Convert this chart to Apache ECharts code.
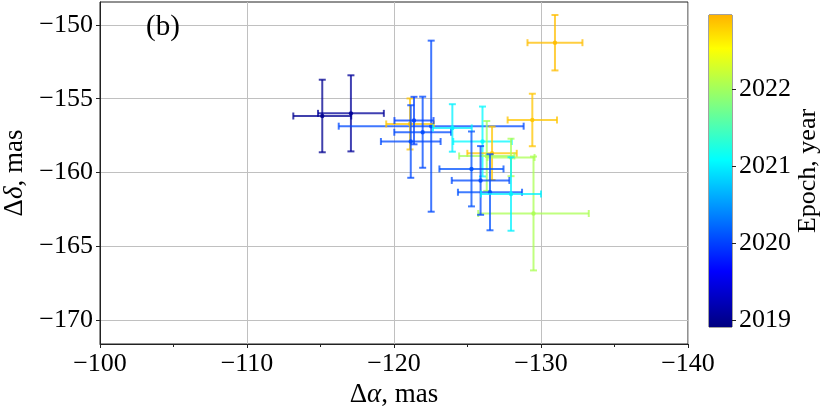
<!DOCTYPE html>
<html lang="en">
<head>
  <meta charset="UTF-8">
  <title>Offsets by epoch - ECharts</title>
  <script src="https://cdn.jsdelivr.net/npm/echarts@6.0.0/dist/echarts.min.js"></script>
</head>
<body style="margin:0;background:#fff;">
  <!-- Chart container -->
  <div id="main" style="width: 830px; height: 410px;"></div>

  <script>
    // Measured offsets (mas) with errors, coloured by epoch
    const dRA    = [-115.12, -117.07, -122.53, -121.09, -121.36, -121.95, -121.14, -123.97, -126.02, -129.41,
                    -130.95, -126.67, -126.31, -127.96, -129.49, -125.27, -125.89, -126.53, -127.96];
    const dDec   = [-156.17, -155.99, -156.86, -156.71, -156.48, -157.27, -157.90, -156.98, -157.90, -156.44,
                    -151.20, -158.70, -158.88, -158.98, -162.78, -159.76, -160.54, -161.34, -161.46];
    const errRA  = [1.97, 2.24, 6.29, 1.62, 1.33, 1.93, 2.03, 1.32, 1.99, 1.68,
                    1.87, 1.68, 1.88, 1.60, 3.76, 2.18, 1.96, 2.18, 2.04];
    const errDec = [2.46, 2.58, 5.80, 1.73, 1.61, 2.41, 2.46, 1.61, 2.37, 1.78,
                    1.88, 1.81, 2.37, 1.27, 3.86, 2.54, 2.33, 2.58, 2.49];
    const epoch  = [2019.00, 2019.05, 2020.05, 2022.85, 2020.00, 2020.05, 2020.05, 2021.00, 2021.05, 2022.85,
                    2022.90, 2022.85, 2022.00, 2022.05, 2022.05, 2020.10, 2020.05, 2020.10, 2021.00];

    const yTicks = [-170, -165, -160, -155, -150];
    const cbTicks = [2019, 2020, 2021, 2022];
    const cbMin = 2018.91, cbMax = 2022.96;

    // matplotlib jet, only the 0..0.7 part is used
    function jet(t) {
      const c = v => Math.max(0, Math.min(1, v));
      const r = c(1.5 - Math.abs(4 * t - 3));
      const g = c(1.5 - Math.abs(4 * t - 2));
      const b = c(1.5 - Math.abs(4 * t - 1));
      return 'rgb(' + Math.round(r * 255) + ',' + Math.round(g * 255) + ',' + Math.round(b * 255) + ')';
    }
    const nStops = 29;
    const jetColors = [];
    for (let i = 0; i < nStops; i++) jetColors.push(jet(0.7 * i / (nStops - 1)));

    const points = dRA.map((x, i) => [x, dDec[i], errRA[i], errDec[i], epoch[i]]);

    const serif = 'Liberation Serif';
    const minus = v => String(v).replace('-', '\u2212');
    const nameRich = {
      n: { fontFamily: serif, fontSize: 27, color: '#000' },
      i: { fontFamily: serif, fontSize: 27, fontStyle: 'italic', color: '#000' }
    };

    let myChart = echarts.init(document.getElementById('main'));

    const options = {
      animation: false,
      title: {
        text: '(b)', left: 141, top: 8,
        textStyle: { fontFamily: serif, fontSize: 29, fontWeight: 'normal', color: '#000' }
      },
      grid: [
        { left: 100, top: 2, width: 588, height: 342, outerBoundsMode: 'none', containLabel: false,
          show: true, borderColor: '#222', borderWidth: 1 },
        { left: 709, top: 15, width: 23, height: 312, outerBoundsMode: 'none', containLabel: false,
          show: true, borderColor: '#444', borderWidth: 1 }
      ],
      visualMap: {
        show: false, type: 'continuous', seriesIndex: 0, dimension: 4,
        min: cbMin, max: cbMax, inRange: { color: jetColors }
      },
      xAxis: [
        {
          gridIndex: 0, type: 'value', inverse: true, min: -140, max: -100, interval: 10,
          name: '{n|\u0394}{i|\u03b1}{n|, mas}', nameLocation: 'middle', nameGap: 34,
          nameTextStyle: { rich: nameRich },
          axisLine: { lineStyle: { color: '#222' } },
          axisTick: { inside: false, length: 4, lineStyle: { color: '#222' } },
          minorTick: { show: true, splitNumber: 2, length: 3, lineStyle: { color: '#222' } },
          splitLine: { show: true, lineStyle: { color: '#c0c0c0', width: 1 } },
          axisLabel: { fontFamily: serif, fontSize: 26, color: '#000', margin: 7, formatter: minus }
        },
        { gridIndex: 1, type: 'category', data: ['cb'], show: false }
      ],
      yAxis: [
        {
          gridIndex: 0, type: 'value', min: -171.63, max: -148.44,
          name: '{n|\u0394}{i|\u03b4}{n|, mas}', nameLocation: 'middle', nameGap: 68,
          nameTextStyle: { rich: nameRich },
          axisLine: { show: true, lineStyle: { color: '#222' } },
          axisTick: { show: true, length: 4, customValues: yTicks, lineStyle: { color: '#222' } },
          splitLine: { show: true, lineStyle: { color: '#c0c0c0', width: 1 } },
          axisLabel: { fontFamily: serif, fontSize: 26, color: '#000', margin: 7, customValues: yTicks, formatter: minus }
        },
        {
          gridIndex: 1, type: 'value', position: 'right', min: cbMin, max: cbMax,
          name: 'Epoch, year', nameLocation: 'middle', nameGap: 62, nameRotate: 90,
          nameTextStyle: { fontFamily: serif, fontSize: 26, color: '#000' },
          axisLine: { show: false },
          axisTick: { show: true, length: 4, customValues: cbTicks, lineStyle: { color: '#222' } },
          splitLine: { show: false },
          axisLabel: { fontFamily: serif, fontSize: 26, color: '#000', margin: 7, customValues: cbTicks,
                       formatter: v => String(v) }
        }
      ],
      series: [
        {
          type: 'custom', xAxisIndex: 0, yAxisIndex: 0,
          encode: { x: 0, y: 1 },
          data: points,
          renderItem: function (params, api) {
            const x = api.value(0), y = api.value(1), ex = api.value(2), ey = api.value(3);
            const c = api.coord([x, y]);
            const l = api.coord([x - ex, y]), r = api.coord([x + ex, y]);
            const t = api.coord([x, y + ey]), b = api.coord([x, y - ey]);
            const col = api.visual('color');
            const st = { stroke: col, lineWidth: 2, opacity: 0.75 };
            const cap = 3.5;
            const line = (x1, y1, x2, y2) => ({ type: 'line', shape: { x1: x1, y1: y1, x2: x2, y2: y2 }, style: st });
            return {
              type: 'group',
              children: [
                line(l[0], c[1], r[0], c[1]),
                line(c[0], t[1], c[0], b[1]),
                line(l[0], c[1] - cap, l[0], c[1] + cap),
                line(r[0], c[1] - cap, r[0], c[1] + cap),
                line(c[0] - cap, t[1], c[0] + cap, t[1]),
                line(c[0] - cap, b[1], c[0] + cap, b[1]),
                { type: 'circle', shape: { cx: c[0], cy: c[1], r: 2.2 }, style: { fill: col, opacity: 0.85 } }
              ]
            };
          }
        },
        {
          // colour bar body
          type: 'custom', xAxisIndex: 1, yAxisIndex: 1, silent: true,
          data: [[0, cbMin, cbMax]],
          renderItem: function (params, api) {
            const lo = api.coord([0, api.value(1)]);
            const hi = api.coord([0, api.value(2)]);
            const cs = params.coordSys;
            return {
              type: 'rect',
              shape: { x: cs.x, y: hi[1], width: cs.width, height: lo[1] - hi[1] },
              style: {
                fill: new echarts.graphic.LinearGradient(0, 1, 0, 0,
                  jetColors.map((col, i) => ({ offset: i / (jetColors.length - 1), color: col })))
              }
            };
          }
        }
      ]
    };

    myChart.setOption(options);
  </script>
</body>
</html>
